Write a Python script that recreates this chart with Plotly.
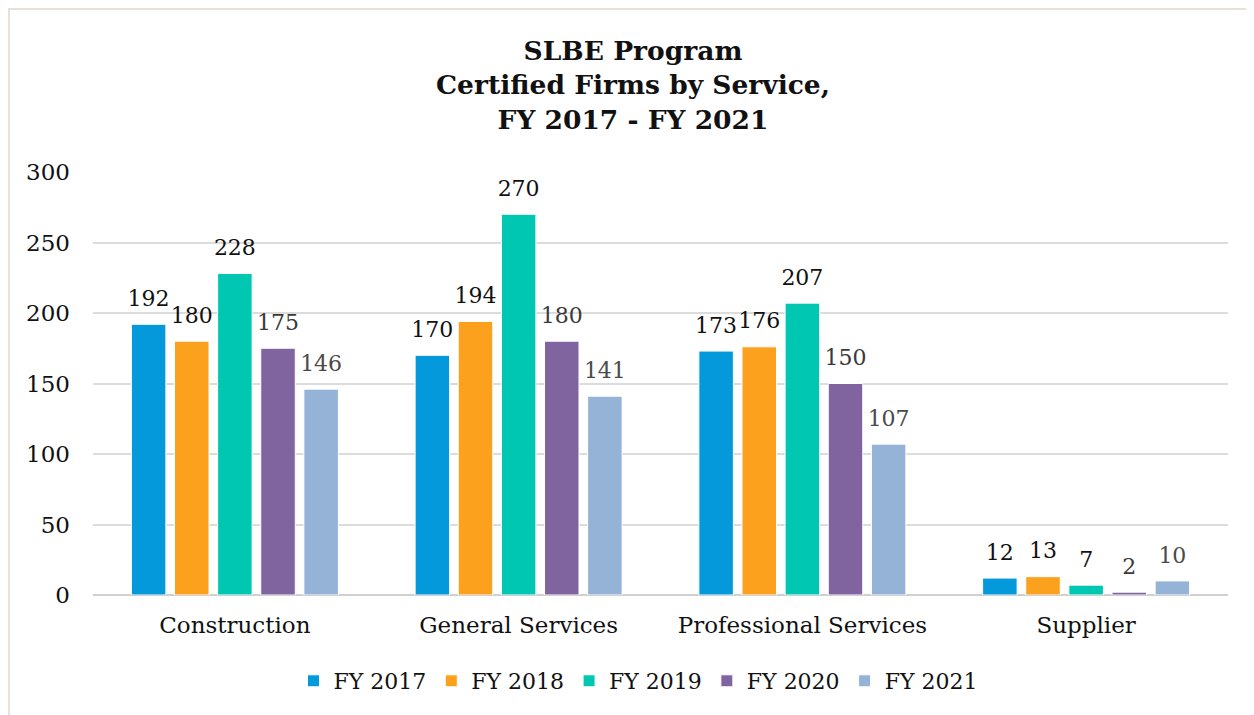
import plotly.graph_objects as go

categories = ["Construction", "General Services", "Professional Services", "Supplier"]
series_names = ["FY 2017", "FY 2018", "FY 2019", "FY 2020", "FY 2021"]
fy2017 = [192, 170, 173, 12]
fy2018 = [180, 194, 176, 13]
fy2019 = [228, 270, 207, 7]
fy2020 = [175, 180, 150, 2]
fy2021 = [146, 141, 107, 10]
y_ticks = [0, 50, 100, 150, 200, 250, 300]

colors = ["#0399DB", "#FCA11D", "#00C7B1", "#80649F", "#95B3D7"]
label_colors = ["#111111", "#111111", "#111111", "#3a3a3a", "#4a4a4a"]
FONT = "DejaVu Serif"

fig = go.Figure()
for name, vals, c in zip(series_names, [fy2017, fy2018, fy2019, fy2020, fy2021], colors):
    fig.add_trace(go.Bar(
        name=name, x=categories, y=vals, offsetgroup=name,
        marker=dict(color=c, line=dict(color="white", width=1)),
        hoverinfo="skip",
    ))
for name, vals, lc in zip(series_names, [fy2017, fy2018, fy2019, fy2020, fy2021], label_colors):
    fig.add_trace(go.Scatter(
        name=name, x=categories, y=vals, offsetgroup=name, mode="markers+text",
        marker=dict(size=19, opacity=0), text=[str(v) for v in vals],
        textposition="top center", textfont=dict(family=FONT, size=22, color=lc),
        showlegend=False, cliponaxis=False,
    ))

# page body has an 8px offset; reference pixel coords are converted by -8
OFF = 8
W, H = 1254 - OFF, 715 - OFF
L, T = 93 - OFF, 172 - OFF
R = W - (1228 - OFF)
B = H - (595 - OFF)
pw = W - L - R
ph = H - T - B

def px_x(x):
    return (x - OFF - L) / pw

def px_y(y):
    return (H - B - (y - OFF)) / ph

fig.update_layout(
    width=W, height=H,
    margin=dict(l=L, r=R, t=T, b=B, autoexpand=False),
    paper_bgcolor="white", plot_bgcolor="white",
    barmode="group", bargap=0.24, bargroupgap=0.2,
    scattermode="group", scattergap=0.24,
    font=dict(family=FONT, size=21, color="#111111"),
    title=dict(
        text="<b>SLBE Program<br>Certified Firms by Service,<br>FY 2017 - FY 2021</b>",
        x=px_x(633), xanchor="center", xref="paper",
        y=1 - (60 - OFF) / H, yanchor="middle",
        font=dict(family=FONT, size=26.5, color="#111111"),
    ),
    xaxis=dict(showgrid=False, showline=False, ticks="", ticklabelstandoff=14,
               tickfont=dict(family=FONT, size=23, color="#111111")),
    yaxis=dict(range=[0, 300], tickvals=y_ticks, showgrid=True, gridcolor="#DCDCDC",
               gridwidth=1.5, zeroline=True, zerolinecolor="#D0D0D0", zerolinewidth=1.5,
               showline=False, ticks="", ticklabelstandoff=22,
               tickfont=dict(family=FONT, size=23, color="#111111")),
    legend=dict(orientation="h", x=px_x(638), xanchor="center", y=px_y(681), yanchor="middle",
                font=dict(family=FONT, size=22, color="#111111"), itemwidth=30,
                traceorder="normal"),
    showlegend=True,
)
fig.add_shape(type="rect", xref="paper", yref="paper",
              x0=px_x(9), x1=px_x(1262), y0=px_y(725), y1=px_y(9),
              line=dict(color="#E6E3D6", width=2), fillcolor="rgba(0,0,0,0)", layer="below")

fig.write_html("out.html")
